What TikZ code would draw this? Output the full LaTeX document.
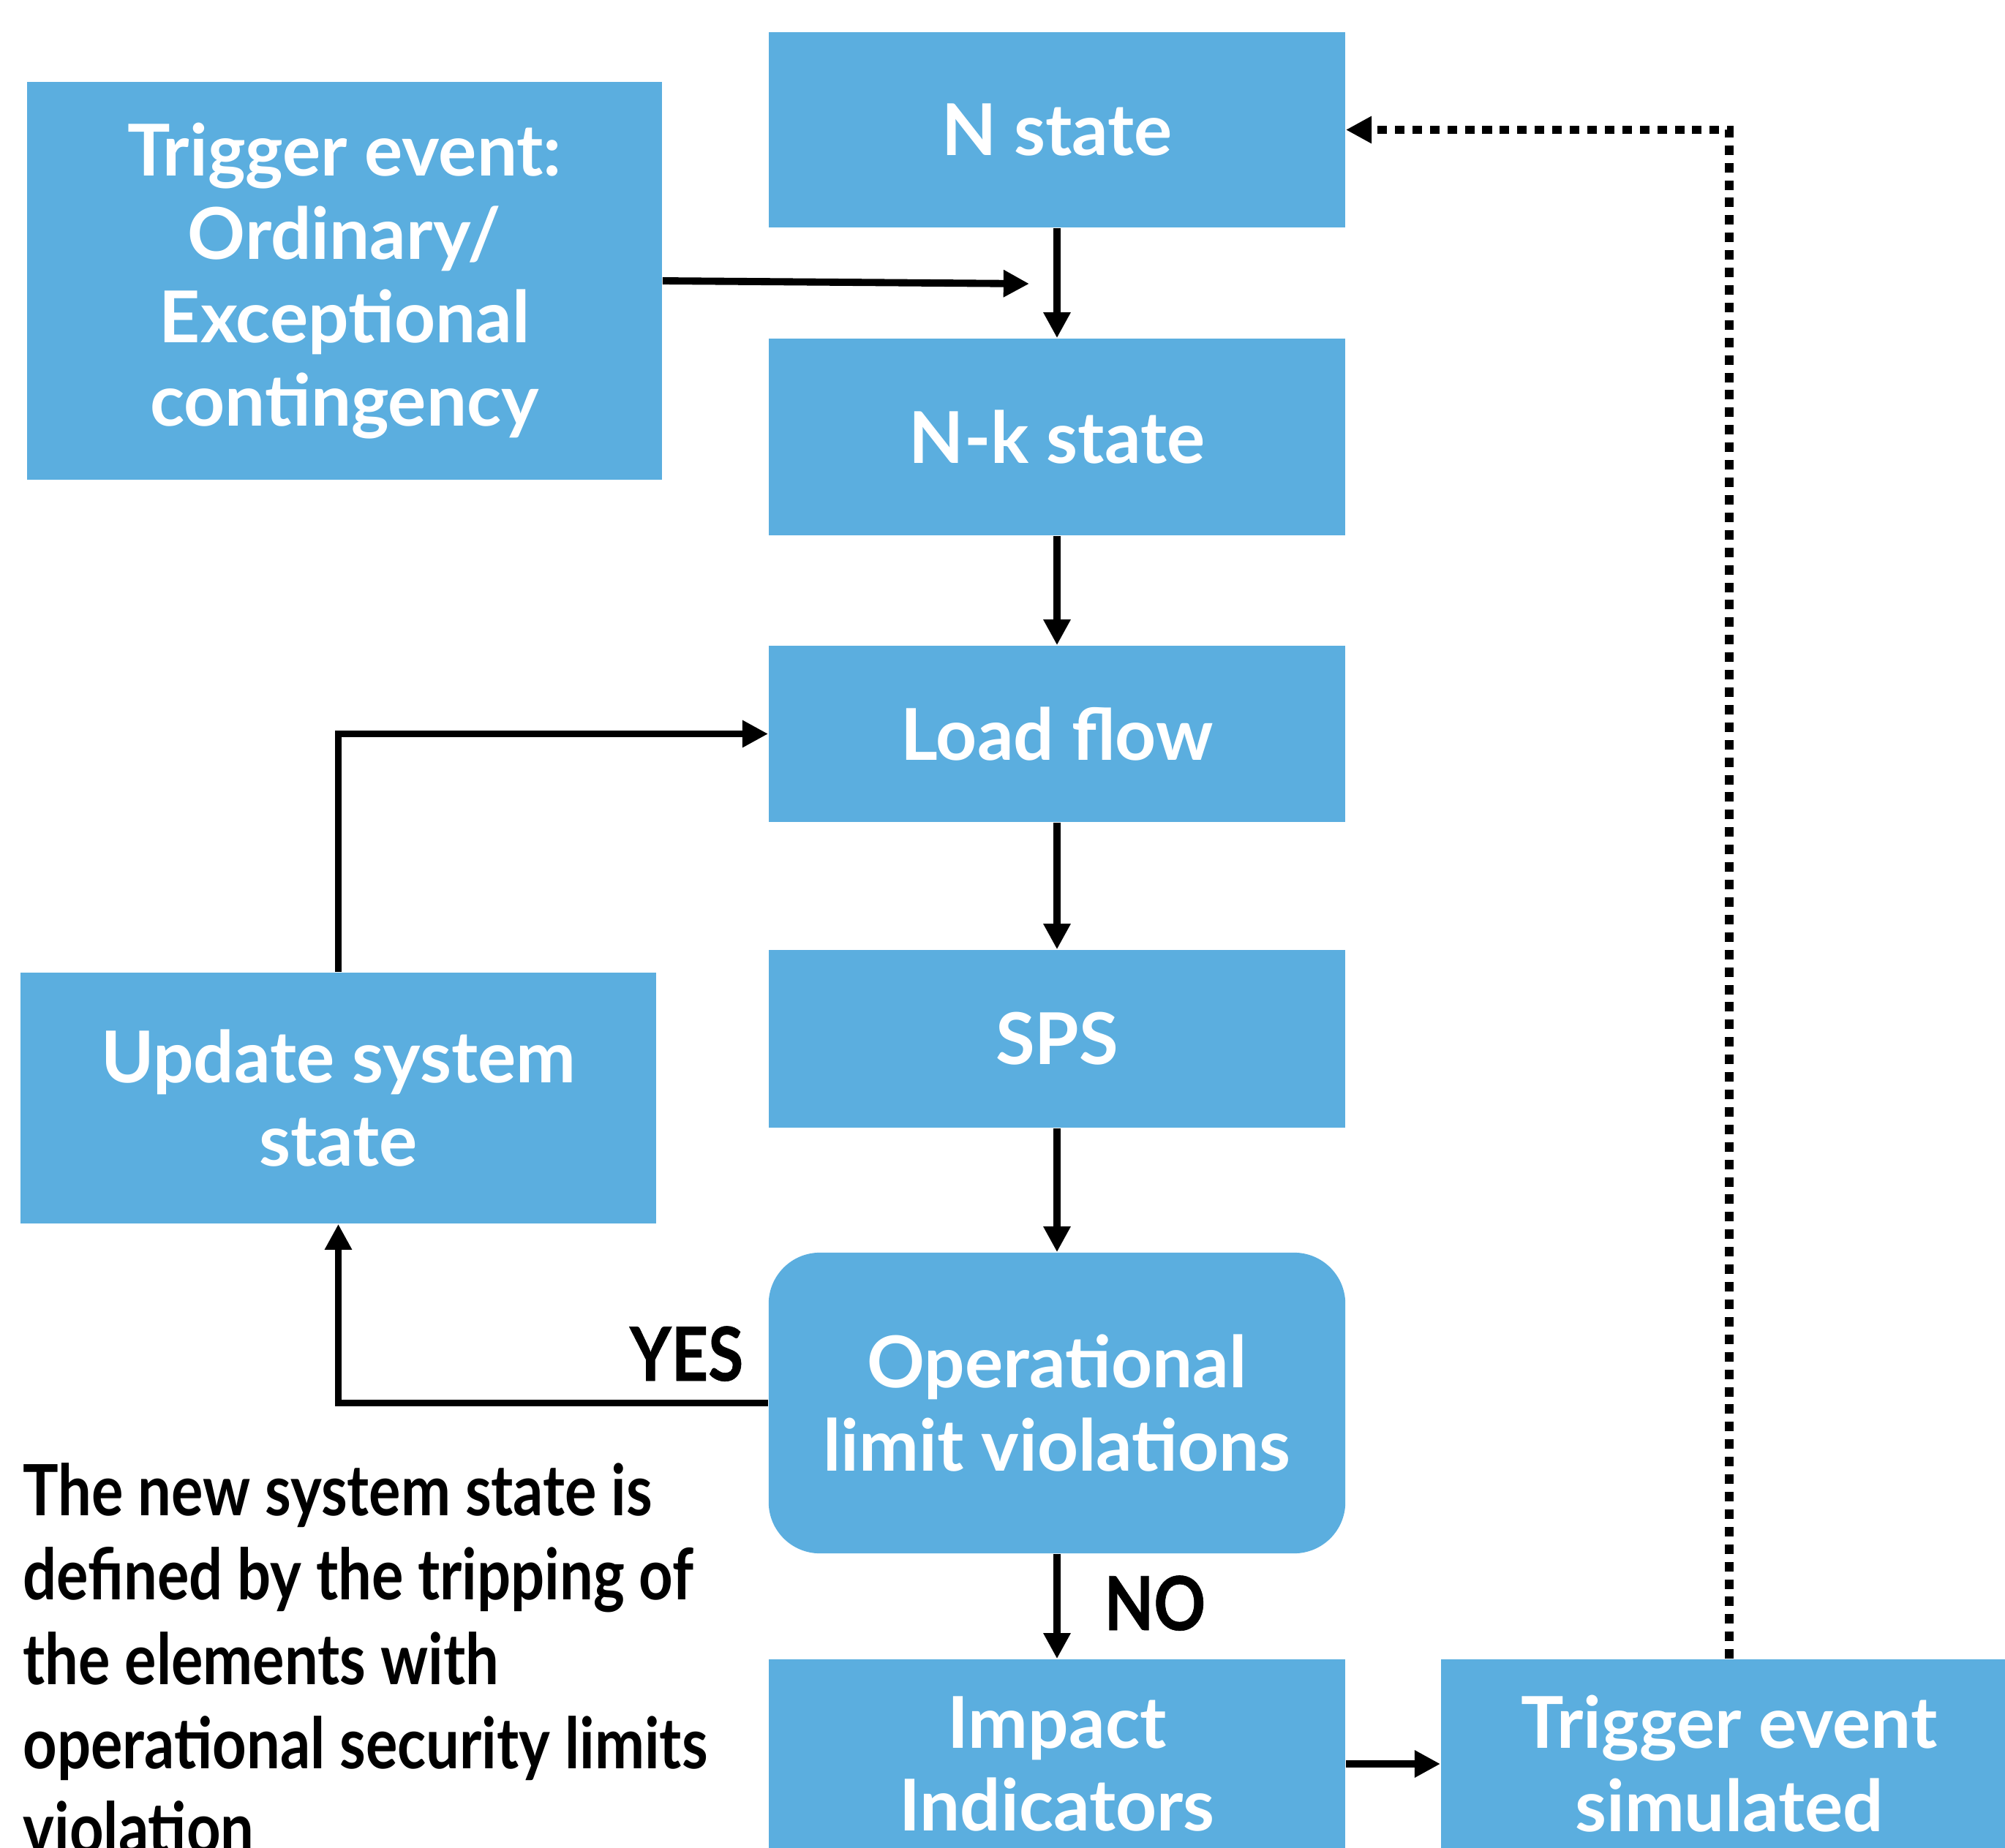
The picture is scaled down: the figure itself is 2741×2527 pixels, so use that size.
\documentclass[tikz,border=0pt]{standalone}
\usepackage{fontspec}
\setmainfont{Lato}
\newfontfamily\boxfont{Lato}
\newfontfamily\notefont[FakeStretch=0.86,FakeBold=0.6]{Lato}
\newfontfamily\textnotefont[FakeStretch=0.84]{Lato}
\usetikzlibrary{arrows.meta,calc}
\definecolor{boxblue}{RGB}{91,174,223}
\tikzset{
  blk/.style={fill=boxblue, draw=none, inner sep=0pt, text=white,
    font=\boxfont\bfseries\fontsize{27.8}{32.4}\selectfont, align=center,
    minimum width=7.88cm},
  arr/.style={line width=2.8pt, -{Triangle[length=10pt,width=10pt]}},
  dotarr/.style={line width=3.4pt, dash pattern=on 3.7pt off 3.1pt, -{Triangle[length=10pt,width=10pt]}},
  lbl/.style={font=\notefont\bfseries\fontsize{29}{32.7}\selectfont, inner sep=0pt},
  notestyle/.style={font=\textnotefont\bfseries\fontsize{27.5}{32.8}\selectfont, inner sep=0pt, align=left}
}
\begin{document}
\begin{tikzpicture}[x=0.01cm,y=-0.01cm]
\useasboundingbox (0,0) rectangle (2741,2527);
\clip (0,0) rectangle (2741,2527);
\node[blk, minimum height=2.67cm] (N) at (1445,177.5) {N state};
\node[blk, minimum width=8.68cm, minimum height=5.44cm] (trig) at (471,384) {Trigger event:\\Ordinary/\\Exceptional\\contingency};
\node[blk, minimum height=2.69cm] (Nk) at (1445,597.5) {N-k state};
\node[blk, minimum height=2.41cm] (load) at (1445,1003.5) {Load flow};
\node[blk, minimum height=2.43cm] (sps) at (1445,1420.5) {SPS};
\node[blk, minimum height=4.11cm, rounded corners=0.7cm] (op) at (1445,1918.5) {Operational\\limit violations};
\node[blk, minimum height=2.86cm] (imp) at (1445,2412) {Impact\\Indicators};
\node[blk, minimum height=2.86cm] (sim) at (2364,2412) {Trigger event\\simulated};
\node[blk, minimum width=8.69cm, minimum height=3.43cm] (upd) at (462.5,1501.5) {Update system\\state};
\coordinate (join) at (1407,388);
\draw[arr] (trig.east) -- (join);
\draw[arr] (N.south) -- (Nk.north);
\draw[arr] (Nk.south) -- (load.north);
\draw[arr] (load.south) -- (sps.north);
\draw[arr] (sps.south) -- (op.north);
\draw[arr] (op.south) -- (imp.north);
\draw[arr] (op.west) -| (upd.south);
\draw[arr] (upd.north) |- (load.west);
\draw[arr] (imp.east) -- (sim.west);
\draw[dotarr] (sim.north) |- (N.east);
\node[lbl, anchor=base east] (yes) at (1017,1888) {YES};
\node[lbl, anchor=base west] (no) at (1509,2229) {NO};
\node[notestyle, anchor=base west] (note) at (31,2534) {The new system state is\\defined by the tripping of\\the elements with\\operational security limits\\violation};
\end{tikzpicture}
\end{document}
